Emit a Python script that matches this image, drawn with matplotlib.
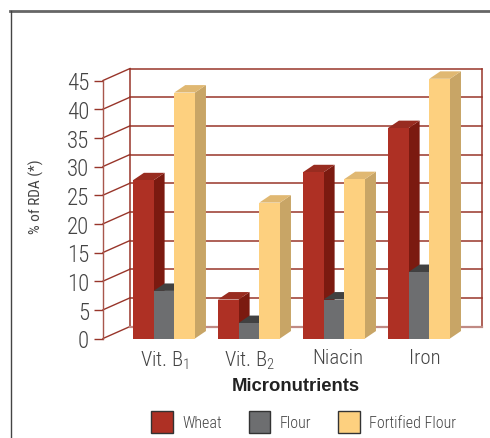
import matplotlib
matplotlib.use('Agg')
import matplotlib.pyplot as plt
from matplotlib.lines import Line2D
from matplotlib.patches import Patch

# condensed look of the original, plain Liberation Sans if the others are missing
plt.rcParams['font.family'] = ['Roboto Condensed', 'Archivo Narrow', 'Liberation Sans', 'DejaVu Sans']
plt.rcParams['font.weight'] = 300
plt.rcParams['mathtext.fontset'] = 'custom'
plt.rcParams['mathtext.rm'] = 'Roboto Condensed:light'
plt.rcParams['mathtext.default'] = 'regular'

# data
categories = ['Vit. B$_1$', 'Vit. B$_2$', 'Niacin', 'Iron']
wheat = [27.6, 6.8, 29.0, 36.7]
flour = [8.3, 2.7, 6.8, 11.6]
fortified = [42.9, 23.7, 27.8, 45.3]
y_ticks = [0, 5, 10, 15, 20, 25, 30, 35, 40, 45]
series_names = ['Wheat', 'Flour', 'Fortified Flour']

# front, side, top colours
colors = {
    'Wheat': ('#ae3024', '#7b1a10', '#982c20'),
    'Flour': ('#6d6e70', '#4a4a4a', '#414141'),
    'Fortified Flour': ('#fdd07f', '#c8a566', '#e0b872'),
}

W, H = 490, 439
fig = plt.figure(figsize=(W / 100, H / 100), dpi=100, facecolor='white')
# axes box is the front plane of the 3d box (pixels from the picture)
ax = fig.add_axes([103 / W, 1 - 339.5 / H, 352 / W, 258 / H])
ax.set_xlim(0, 4)
ax.set_ylim(0, 45)
ax.patch.set_visible(False)

wall_dx, wall_dy = 0.307, 2.09
bar_dx, bar_dy = 0.125, 1.3
bar_w = 0.235
group_step = 0.966
first_bar = 0.34
grid_col = '#98352a'

# walls and gridlines
for v in y_ticks:
    ax.plot([0, wall_dx], [v, v + wall_dy], color=grid_col, lw=1, clip_on=False, zorder=1)
    ax.plot([wall_dx, 4 + wall_dx], [v + wall_dy, v + wall_dy], color=grid_col, lw=1.1,
            clip_on=False, zorder=1)
ax.plot([wall_dx, wall_dx], [wall_dy, 45 + wall_dy], color=grid_col, lw=1.1, clip_on=False, zorder=1)
ax.plot([4 + wall_dx, 4 + wall_dx], [wall_dy, 45 + wall_dy], color=grid_col, lw=1.1, clip_on=False, zorder=1)
ax.plot([wall_dx, 4 + wall_dx], [wall_dy, wall_dy], color='#c08a84', lw=1.6, clip_on=False, zorder=1)

# bars: wheat first, fortified last so each one covers the side of the previous
z = 2
for s, (name, values) in enumerate(zip(series_names, [wheat, flour, fortified])):
    front, side, top = colors[name]
    for i, v in enumerate(values):
        x0 = first_bar + i * group_step + s * bar_w
        x1 = x0 + bar_w
        ax.fill([x1, x1 + bar_dx, x1 + bar_dx, x1], [0, bar_dy, v + bar_dy, v],
                color=side, lw=0, clip_on=False, zorder=z)
        ax.fill([x0, x0 + bar_dx, x1 + bar_dx, x1], [v, v + bar_dy, v + bar_dy, v],
                color=top, lw=0, clip_on=False, zorder=z)
        ax.bar(x0, v, width=bar_w, align='edge', color=front, lw=0, clip_on=False, zorder=z + 0.5)
    z += 1

for sp in ['top', 'right', 'bottom']:
    ax.spines[sp].set_visible(False)
ax.spines['left'].set_color('#a8564c')
ax.spines['left'].set_linewidth(1)

ax.set_yticks(y_ticks)
ax.tick_params(axis='y', length=6.5, width=1, color=grid_col, pad=3.5, labelsize=16.5, labelcolor='#444444')
ax.set_xticks([0.695, 1.67, 2.67, 3.66])
ax.set_xticklabels(categories)
ax.tick_params(axis='x', length=0, pad=7, labelsize=15, labelcolor='#444444')

ax.set_xlabel('Micronutrients', family=['Liberation Sans'], fontweight='bold', fontsize=13.3, color='#222222')
ax.xaxis.set_label_coords((296 - 103) / 352, -(378 - 339.5) / 258)
ax.set_ylabel('% of RDA (*)', fontsize=11, color='#444444')
ax.yaxis.set_label_coords(-(103 - 44) / 352, (339.5 - 197) / 258)

handles = [Patch(facecolor=colors[n][0], edgecolor='#333333', lw=1) for n in series_names]
fig.legend(handles, series_names, ncols=3, frameon=False, fontsize=11.5, labelcolor='#444444',
           loc='lower left', bbox_to_anchor=(151 / W, 1 - 434 / H), borderaxespad=0, borderpad=0,
           handlelength=1.375, handleheight=1.74, handletextpad=0.6, columnspacing=1.65)

# frame around the chart, open at right and bottom
fig.add_artist(Line2D([10 / W, 1], [1 - 12 / H, 1 - 12 / H], color='#666666', lw=2))
fig.add_artist(Line2D([10.5 / W, 10.5 / W], [0, 1 - 12 / H], color='#444444', lw=1))

fig.savefig('out.png', dpi=100)
